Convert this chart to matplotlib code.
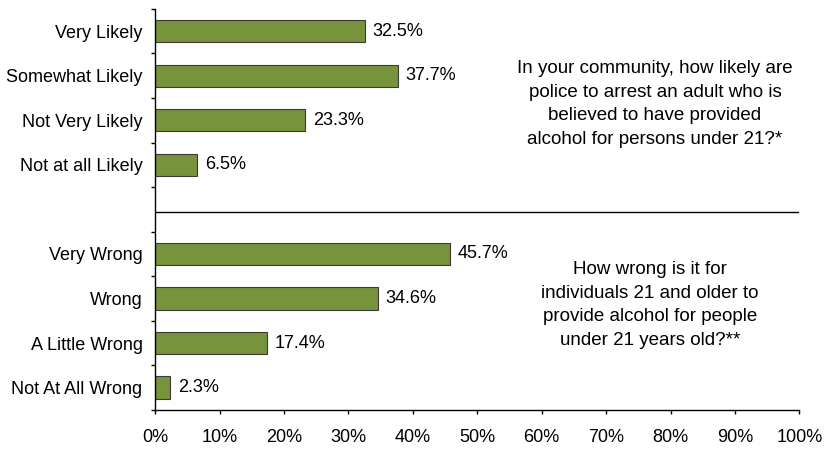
import matplotlib
matplotlib.use('Agg')
import matplotlib.pyplot as plt
import numpy as np

plt.rcParams['font.family'] = ['Liberation Sans', 'DejaVu Sans']

# Data
likely_labels = ['Very Likely', 'Somewhat Likely', 'Not Very Likely', 'Not at all Likely']
likely_values = [32.5, 37.7, 23.3, 6.5]
wrong_labels = ['Very Wrong', 'Wrong', 'A Little Wrong', 'Not At All Wrong']
wrong_values = [45.7, 34.6, 17.4, 2.3]
x_ticks = [0, 10, 20, 30, 40, 50, 60, 70, 80, 90, 100]

q1 = ('In your community, how likely are\npolice to arrest an adult who is\n'
      'believed to have provided\nalcohol for persons under 21?*')
q2 = ('How wrong is it for\nindividuals 21 and older to\n'
      'provide alcohol for people\nunder 21 years old?**')

labels = likely_labels + [''] + wrong_labels
values = likely_values + [None] + wrong_values
pos = np.arange(len(labels))

fs = 13

fig = plt.figure(figsize=(8.25, 4.7), dpi=100)
ax = fig.add_axes([0.188, 0.128, 0.781, 0.853])

bar_color = '#77933C'
for p, v in zip(pos, values):
    if v is None:
        continue
    ax.barh(p, v, height=0.5, color=bar_color, edgecolor='#3a3a3a', linewidth=0.8)
    ax.text(v + 1.2, p, f'{v:.1f}%', va='center', ha='left', fontsize=fs)

ax.set_xlim(0, 100)
ax.set_ylim(len(labels) - 0.5, -0.5)

# separator between the two questions
ax.axhline(4.05, color='black', linewidth=1.0, xmin=0, xmax=1)

ax.set_xticks(x_ticks)
ax.set_xticklabels([f'{t}%' for t in x_ticks], fontsize=fs)
ax.tick_params(axis='x', direction='out', length=3, width=1, pad=11)

# category boundaries as ticks, labels on centers
ax.set_yticks(np.arange(-0.5, len(labels), 1.0))
ax.set_yticklabels([])
ax.tick_params(axis='y', which='major', direction='out', length=3, width=1)
ax.set_yticks(pos, minor=True)
ax.set_yticklabels(labels, minor=True, fontsize=fs)
ax.tick_params(axis='y', which='minor', length=0, pad=9)

for s in ['top', 'right']:
    ax.spines[s].set_visible(False)
ax.spines['left'].set_linewidth(1)
ax.spines['bottom'].set_linewidth(1)

fig.text(655 / 825, 1 - 104 / 470, q1, ha='center', va='center', fontsize=13.5,
         linespacing=1.5)
fig.text(650 / 825, 1 - 305 / 470, q2, ha='center', va='center', fontsize=13.5,
         linespacing=1.5)

fig.savefig('out.png', dpi=100)
